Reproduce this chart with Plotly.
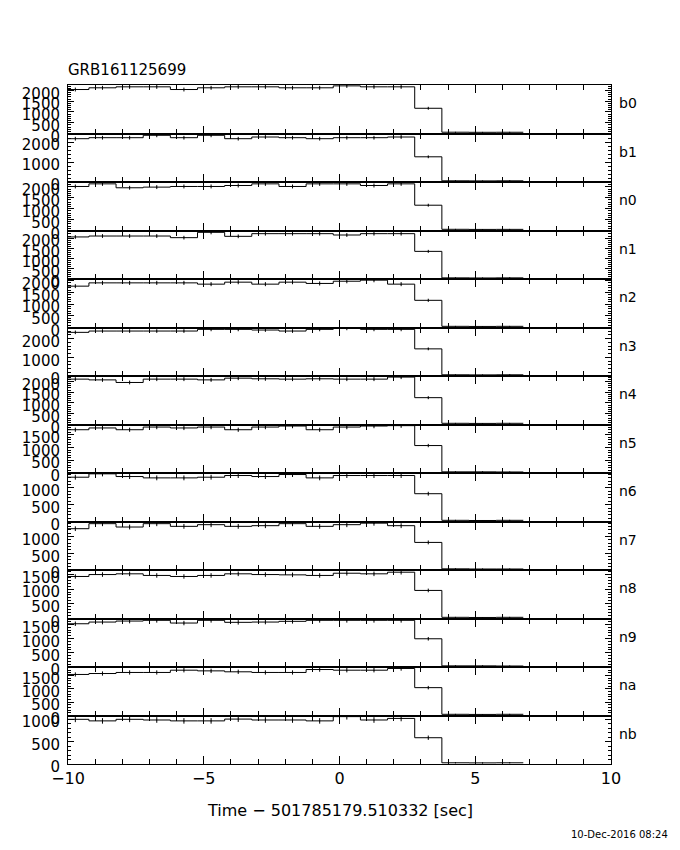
import plotly.graph_objects as go
from plotly.subplots import make_subplots
import numpy as np

# ---- data ----
detectors = ["b0", "b1", "n0", "n1", "n2", "n3", "n4", "n5", "n6", "n7", "n8", "n9", "na", "nb"]
bin_start = -10.23   # first bin edge [s]
bin_width = 1.0      # bin width [s]

pre_b0 = [2040, 2120, 2165, 2165, 2040, 2120, 2165, 2165, 2120, 2120, 2210, 2165, 2165]
pre_b1 = [2165, 2215, 2215, 2335, 2215, 2335, 2165, 2250, 2215, 2165, 2215, 2215, 2250]
pre_n0 = [2020, 2140, 1960, 1990, 2020, 2020, 2065, 2140, 2020, 2140, 2140, 2065, 2140]
pre_n1 = [2055, 2100, 2100, 2100, 2020, 2280, 2085, 2215, 2215, 2215, 2150, 2215, 2215]
pre_n2 = [1765, 1905, 1905, 1905, 1905, 1850, 1935, 1850, 1935, 1880, 1975, 2020, 1850]
pre_n3 = [2340, 2410, 2410, 2410, 2410, 2500, 2500, 2465, 2410, 2500, 2555, 2500, 2500]
pre_n4 = [2105, 2070, 1950, 2105, 2105, 2070, 2150, 2120, 2105, 2120, 2105, 2105, 2200]
pre_n5 = [1695, 1765, 1695, 1800, 1765, 1800, 1695, 1800, 1840, 1695, 1800, 1840, 1855]
pre_n6 = [1315, 1415, 1335, 1295, 1295, 1315, 1365, 1335, 1395, 1295, 1365, 1365, 1365]
pre_n7 = [1235, 1385, 1285, 1385, 1305, 1355, 1305, 1325, 1385, 1305, 1355, 1400, 1325]
pre_n8 = [1430, 1495, 1520, 1465, 1430, 1465, 1520, 1495, 1485, 1465, 1540, 1520, 1575]
pre_n9 = [1525, 1585, 1620, 1645, 1550, 1645, 1575, 1585, 1610, 1645, 1645, 1645, 1645]
pre_na = [1540, 1575, 1615, 1615, 1700, 1675, 1640, 1615, 1615, 1725, 1700, 1700, 1765]
pre_nb = [995, 960, 995, 980, 960, 960, 1000, 980, 980, 960, 1055, 980, 1015]

mid_vals = [1170, 1260, 1160, 1350, 1160, 1455, 1245, 1075, 825, 825, 955, 995, 1045, 585]

post_b0 = [60, 55, 58]
post_b1 = [60, 55, 60]
post_n0 = [55, 50, 52]
post_n1 = [55, 50, 55]
post_n2 = [50, 45, 50]
post_n3 = [65, 60, 65]
post_n4 = [55, 50, 55]
post_n5 = [45, 45, 40]
post_n6 = [35, 30, 35]
post_n7 = [35, 30, 30]
post_n8 = [40, 35, 40]
post_n9 = [40, 40, 35]
post_na = [45, 40, 45]
post_nb = [27, 25, 27]

y_max = [2250, 2425, 2225, 2370, 2070, 2600, 2250, 1900, 1440, 1450, 1650, 1710, 1820, 1080]
y_major = [500, 1000, 500, 500, 500, 1000, 500, 500, 500, 500, 500, 500, 500, 500]
y_minor = [100, 200, 100, 100, 100, 200, 100, 100, 100, 100, 100, 100, 100, 100]

x_ticks = [-10, -5, 0, 5, 10]

pre_all = [pre_b0, pre_b1, pre_n0, pre_n1, pre_n2, pre_n3, pre_n4, pre_n5,
           pre_n6, pre_n7, pre_n8, pre_n9, pre_na, pre_nb]
post_all = [post_b0, post_b1, post_n0, post_n1, post_n2, post_n3, post_n4, post_n5,
            post_n6, post_n7, post_n8, post_n9, post_na, post_nb]

title_text = "GRB161125699"
xtitle_text = "Time \u2212 501785179.510332 [sec]"
date_text = "10-Dec-2016 08:24"

# ---- figure geometry (page has an 8px body margin) ----
FONT = "DejaVu Sans"
OFF = 8
W, H = 672, 834
ML, MT = 68 - OFF, 85 - OFF
plot_w, plot_h = 543, 679
MR = W - ML - plot_w
MB = H - MT - plot_h


def px_x(px):  # page pixel -> paper x
    return (px - OFF - ML) / plot_w


def px_y(py):  # page pixel -> paper y
    return 1 - (py - OFF - MT) / plot_h


n = len(detectors)
fig = make_subplots(rows=n, cols=1, shared_xaxes=True, vertical_spacing=0)

for i in range(n):
    r = i + 1
    vals = list(pre_all[i]) + [mid_vals[i]] + list(post_all[i])
    nb = len(vals)
    edges = [bin_start + k * bin_width for k in range(nb + 1)]
    centers = [bin_start + (k + 0.5) * bin_width for k in range(nb)]
    fig.add_trace(go.Scatter(x=edges, y=vals + [vals[-1]], mode="lines",
                             line=dict(color="black", width=1, shape="hv"),
                             hoverinfo="skip", showlegend=False), row=r, col=1)
    err = (2.0 * np.sqrt(np.array(vals, dtype=float))).tolist()
    fig.add_trace(go.Scatter(x=centers, y=vals, mode="markers",
                             marker=dict(size=1, color="black"),
                             error_y=dict(type="data", array=err, width=0,
                                          thickness=1, color="black"),
                             hoverinfo="skip", showlegend=False), row=r, col=1)

    ticks = list(range(0, int(y_max[i]) + 1, y_major[i]))
    fig.update_yaxes(row=r, col=1, range=[0, y_max[i]], tickvals=ticks,
                     ticktext=[str(t) for t in ticks],
                     ticks="inside", ticklen=6, tickwidth=1, tickcolor="black",
                     minor=dict(dtick=y_minor[i], tick0=0, ticks="inside", ticklen=3,
                                tickwidth=1, tickcolor="black", showgrid=False),
                     showline=True, linecolor="black", linewidth=1, mirror="ticks",
                     showgrid=False, zeroline=False,
                     tickfont=dict(family=FONT, size=15, color="black"),
                     ticklabelstandoff=4, ticklabelshift=3, fixedrange=True)
    fig.update_xaxes(row=r, col=1, range=[-10, 10], tickvals=x_ticks,
                     ticktext=[("\u2212" + str(-t)) if t < 0 else str(t) for t in x_ticks],
                     ticks="inside", ticklen=8, tickwidth=1, tickcolor="black",
                     minor=dict(dtick=1, tick0=0, ticks="inside", ticklen=5,
                                tickwidth=1, tickcolor="black", showgrid=False),
                     showline=True, linecolor="black", linewidth=1, mirror="ticks",
                     showgrid=False, zeroline=False,
                     tickfont=dict(family=FONT, size=16, color="black"),
                     showticklabels=(r == n), fixedrange=True)

    fig.add_annotation(text=detectors[i], xref="paper", x=1, xshift=6, xanchor="left",
                       yref=f"y{'' if r == 1 else r} domain", y=0.62, yanchor="middle",
                       showarrow=False, font=dict(family=FONT, size=14, color="black"))

fig.add_annotation(text=title_text, xref="paper", x=px_x(68), xshift=-2, xanchor="left",
                   yref="paper", y=px_y(70), yanchor="middle",
                   showarrow=False, font=dict(family=FONT, size=15, color="black"))
fig.add_annotation(text=xtitle_text, xref="paper", x=px_x(340), xanchor="center",
                   yref="paper", y=px_y(810), yanchor="middle",
                   showarrow=False, font=dict(family=FONT, size=16, color="black"))
fig.add_annotation(text=date_text, xref="paper", x=px_x(670), xanchor="right",
                   yref="paper", y=px_y(834), yanchor="middle",
                   showarrow=False, font=dict(family=FONT, size=10, color="black"))

fig.update_layout(width=W, height=H, margin=dict(l=ML, r=MR, t=MT, b=MB),
                  paper_bgcolor="white", plot_bgcolor="white", showlegend=False)

fig.write_html("out.html")
